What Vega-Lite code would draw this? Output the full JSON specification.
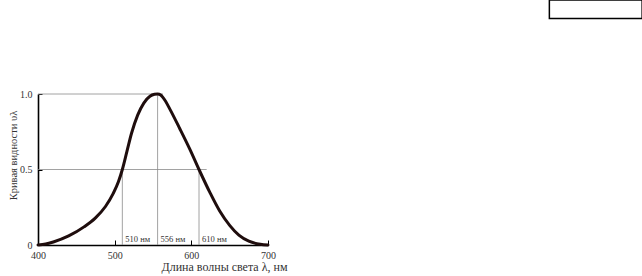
{
  "$schema": "https://vega.github.io/schema/vega-lite/v6.json",
  "autosize": {"type": "none"},
  "width": 230,
  "height": 151,
  "padding": {"left": 38, "top": 94, "right": 374, "bottom": 31},
  "background": "white",
  "config": {"view": {"stroke": null}, "font": "Liberation Serif"},
  "datasets": {
    "curve": [
      {"wavelength": 400, "v": 0.0},
      {"wavelength": 410, "v": 0.006},
      {"wavelength": 420, "v": 0.02},
      {"wavelength": 440, "v": 0.06},
      {"wavelength": 460, "v": 0.12},
      {"wavelength": 475, "v": 0.18},
      {"wavelength": 488, "v": 0.255},
      {"wavelength": 498, "v": 0.34},
      {"wavelength": 505, "v": 0.42},
      {"wavelength": 510, "v": 0.5},
      {"wavelength": 516, "v": 0.62},
      {"wavelength": 522, "v": 0.74},
      {"wavelength": 530, "v": 0.86},
      {"wavelength": 538, "v": 0.94},
      {"wavelength": 546, "v": 0.985},
      {"wavelength": 552, "v": 0.998},
      {"wavelength": 556, "v": 1.0},
      {"wavelength": 560, "v": 0.993},
      {"wavelength": 566, "v": 0.955},
      {"wavelength": 572, "v": 0.9},
      {"wavelength": 585, "v": 0.77},
      {"wavelength": 598, "v": 0.635},
      {"wavelength": 610, "v": 0.5},
      {"wavelength": 624, "v": 0.35},
      {"wavelength": 637, "v": 0.225},
      {"wavelength": 650, "v": 0.13},
      {"wavelength": 662, "v": 0.065},
      {"wavelength": 675, "v": 0.025},
      {"wavelength": 690, "v": 0.005},
      {"wavelength": 700, "v": 0.0}
    ],
    "hlines": [
      {"wavelength": 400, "wavelength2": 563, "v": 1.0},
      {"wavelength": 400, "wavelength2": 620, "v": 0.5}
    ],
    "vlines": [
      {"wavelength": 510, "v": 0, "v2": 0.5, "label": "510 нм"},
      {"wavelength": 556, "v": 0, "v2": 1.0, "label": "556 нм"},
      {"wavelength": 610, "v": 0, "v2": 0.5, "label": "610 нм"}
    ],
    "box": [
      {"wavelength": 1067, "wavelength2": 1188, "v": 1.5, "v2": 1.623}
    ]
  },
  "encoding": {
    "x": {
      "field": "wavelength",
      "type": "quantitative",
      "scale": {"domain": [400, 700], "nice": false, "zero": false},
      "axis": {
        "values": [400, 500, 600, 700],
        "format": "d",
        "grid": false,
        "labelFont": "Liberation Serif",
        "labelFontSize": 10,
        "labelColor": "#333333",
        "labelPadding": 10,
        "labelFlush": false,
        "tickSize": -5,
        "tickColor": "#000000",
        "tickWidth": 1,
        "domainColor": "#000000",
        "domainWidth": 1.6,
        "title": "Длина волны света  λ, нм",
        "titleFont": "Liberation Serif",
        "titleFontSize": 12,
        "titleFontWeight": "normal",
        "titleColor": "#333333",
        "titleX": 249,
        "titleY": 25,
        "titleAlign": "right",
        "titleBaseline": "alphabetic"
      }
    },
    "y": {
      "field": "v",
      "type": "quantitative",
      "scale": {"domain": [0, 1], "nice": false},
      "axis": {
        "values": [0, 0.5, 1],
        "labelExpr": "datum.value == 0 ? '0' : format(datum.value, '.1f')",
        "grid": false,
        "labelFont": "Liberation Serif",
        "labelFontSize": 10,
        "labelColor": "#333333",
        "labelPadding": 10,
        "labelFlush": false,
        "tickSize": -4,
        "tickColor": "#000000",
        "domainColor": "#000000",
        "domainWidth": 1.6,
        "title": "Кривая видности  υλ",
        "titleFont": "Liberation Serif",
        "titleFontSize": 10.5,
        "titleFontWeight": "normal",
        "titleColor": "#333333",
        "titleAngle": -90,
        "titleX": -25,
        "titleY": 61,
        "titleAlign": "center",
        "titleBaseline": "middle"
      }
    }
  },
  "layer": [
    {
      "data": {"name": "hlines"},
      "mark": {"type": "rule", "color": "#8a8a8a", "strokeWidth": 0.8},
      "encoding": {"x2": {"field": "wavelength2"}}
    },
    {
      "data": {"name": "vlines"},
      "mark": {"type": "rule", "color": "#8a8a8a", "strokeWidth": 0.8},
      "encoding": {"y2": {"field": "v2"}}
    },
    {
      "data": {"name": "vlines"},
      "mark": {"type": "text", "align": "left", "baseline": "alphabetic", "dx": 3, "dy": -3, "fontSize": 8.5, "font": "Liberation Serif", "color": "#333333"},
      "encoding": {"text": {"field": "label"}}
    },
    {
      "data": {"name": "curve"},
      "mark": {"type": "line", "color": "#1f0d0d", "strokeWidth": 3, "interpolate": "monotone", "strokeCap": "round"}
    },
    {
      "data": {"name": "box"},
      "mark": {"type": "rect", "fill": "white", "stroke": "#000000", "strokeWidth": 1.5},
      "encoding": {"x2": {"field": "wavelength2"}, "y2": {"field": "v2"}}
    }
  ]
}
